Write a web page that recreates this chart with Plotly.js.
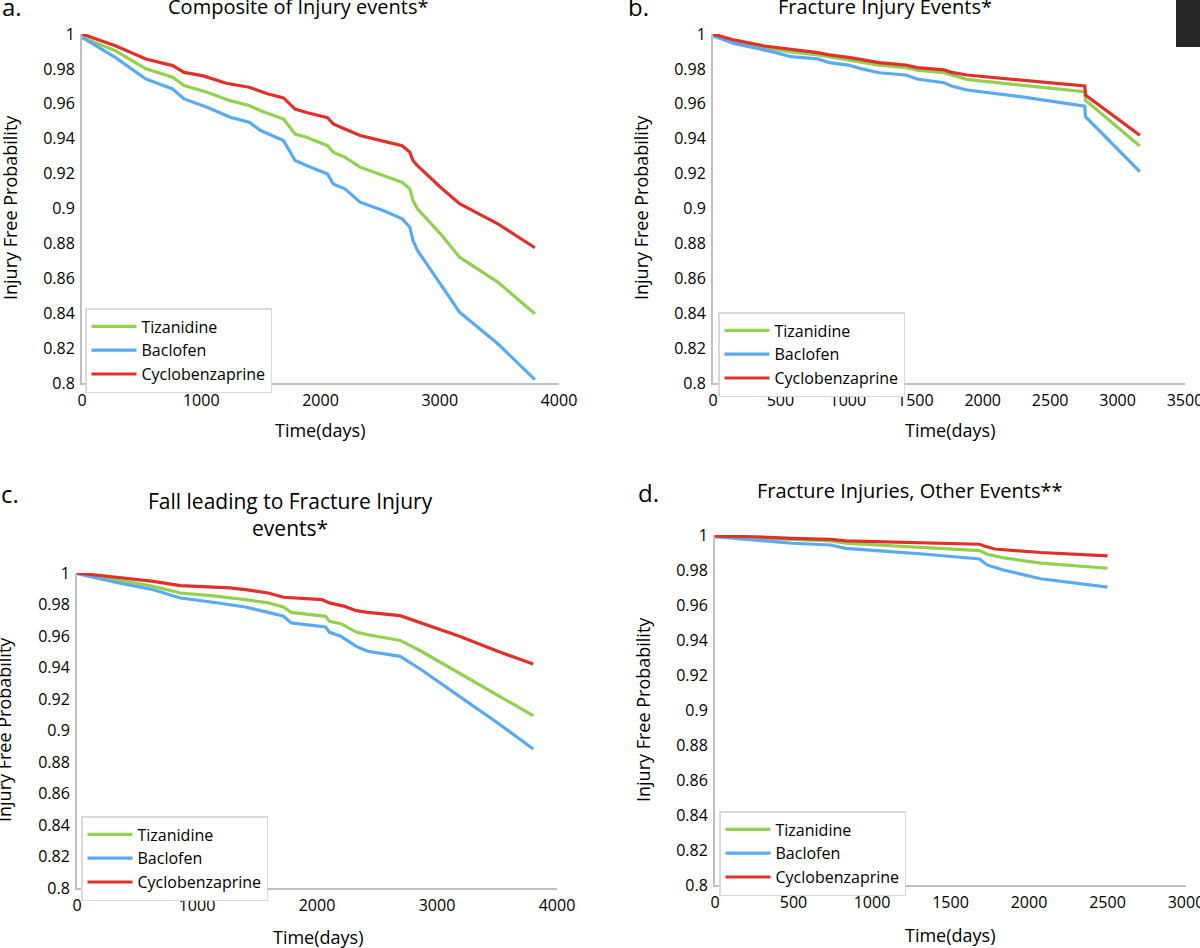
<!DOCTYPE html>
<html>
<head>
<meta charset="utf-8">
<script src="https://cdn.plot.ly/plotly-3.0.1.min.js"></script>
<style>html,body{margin:0;padding:0;background:#fff;}#chart{width:1200px;height:948px;}</style>
</head>
<body>
<div id="chart"></div>
<script>
// ---------- DATA ----------
const seriesNames = ["Tizanidine", "Baclofen", "Cyclobenzaprine"];
const yTickVals = [0.8, 0.82, 0.84, 0.86, 0.88, 0.9, 0.92, 0.94, 0.96, 0.98, 1];
const yTickText = ["0.8", "0.82", "0.84", "0.86", "0.88", "0.9", "0.92", "0.94", "0.96", "0.98", "1"];

// Panel a: Composite of Injury events*
const aTizX = [0, 279, 536, 760, 856, 1049, 1242, 1402, 1498, 1690, 1787, 1883, 2059, 2107, 2204, 2332, 2525, 2685, 2749, 2775, 2813, 3006, 3166, 3487, 3798];
const aTizY = [0.998, 0.9905, 0.98, 0.9752, 0.9704, 0.9666, 0.9618, 0.959, 0.956, 0.9513, 0.9427, 0.9408, 0.936, 0.9323, 0.9294, 0.9237, 0.9189, 0.915, 0.9113, 0.9046, 0.8998, 0.8855, 0.8721, 0.8578, 0.8397];
const aBacX = [0, 279, 536, 760, 856, 1049, 1242, 1402, 1498, 1690, 1787, 1883, 2059, 2107, 2204, 2332, 2525, 2685, 2749, 2775, 2813, 3006, 3166, 3487, 3798];
const aBacY = [0.998, 0.9866, 0.9742, 0.9685, 0.9628, 0.958, 0.9523, 0.9494, 0.9447, 0.9389, 0.9275, 0.9246, 0.9198, 0.9141, 0.9113, 0.9036, 0.8989, 0.8941, 0.8893, 0.8817, 0.876, 0.8569, 0.8406, 0.8225, 0.8019];
const aCycX = [0, 279, 536, 760, 856, 1017, 1209, 1402, 1562, 1690, 1787, 1883, 2059, 2107, 2204, 2332, 2525, 2685, 2749, 2775, 2813, 3006, 3166, 3487, 3798];
const aCycY = [1.0, 0.9933, 0.9857, 0.9819, 0.978, 0.976, 0.9718, 0.9695, 0.9656, 0.9634, 0.957, 0.955, 0.952, 0.9485, 0.9456, 0.9418, 0.9386, 0.936, 0.9323, 0.9275, 0.9246, 0.9122, 0.9027, 0.8912, 0.8775];

// Panel b: Fracture Injury Events*
const bTizX = [0, 153, 380, 579, 777, 1004, 1231, 1429, 1514, 1713, 1769, 1883, 2280, 2757, 2762, 3165];
const bTizY = [0.9994, 0.9956, 0.9922, 0.9897, 0.988, 0.9851, 0.9822, 0.9807, 0.9793, 0.9778, 0.9765, 0.974, 0.9707, 0.9669, 0.9621, 0.9358];
const bBacX = [0, 153, 437, 579, 777, 862, 1004, 1089, 1231, 1429, 1514, 1713, 1769, 1883, 2280, 2757, 2762, 3165];
const bBacY = [0.9989, 0.9946, 0.9899, 0.987, 0.9857, 0.9836, 0.9822, 0.9803, 0.9778, 0.9765, 0.9742, 0.9721, 0.9702, 0.9679, 0.9641, 0.9587, 0.9526, 0.9211];
const bCycX = [0, 153, 380, 579, 777, 862, 1004, 1146, 1231, 1429, 1514, 1713, 1769, 1883, 2280, 2757, 2762, 3165];
const bCycY = [1.0, 0.9966, 0.9931, 0.9912, 0.9893, 0.988, 0.9866, 0.9847, 0.9836, 0.9822, 0.9807, 0.9794, 0.978, 0.9765, 0.9736, 0.9702, 0.965, 0.942];

// Panel c: Fall leading to Fracture Injury events*
const cTizX = [0, 319, 637, 861, 1116, 1403, 1594, 1721, 1785, 2072, 2104, 2199, 2327, 2422, 2693, 2869, 3187, 3506, 3802];
const cTizY = [1.0, 0.9958, 0.9915, 0.9873, 0.9856, 0.9831, 0.981, 0.9784, 0.975, 0.9725, 0.9693, 0.9678, 0.9625, 0.9608, 0.9572, 0.9503, 0.9365, 0.9228, 0.9094];
const cBacX = [0, 319, 637, 861, 1116, 1403, 1594, 1721, 1785, 2072, 2104, 2199, 2327, 2422, 2693, 2869, 3187, 3506, 3802];
const cBacY = [0.9996, 0.9941, 0.9894, 0.9841, 0.9816, 0.9784, 0.975, 0.9725, 0.9683, 0.9657, 0.9623, 0.9598, 0.9534, 0.9503, 0.9471, 0.9386, 0.9217, 0.9048, 0.8883];
const cCycX = [0, 319, 637, 861, 1275, 1403, 1594, 1721, 2040, 2104, 2231, 2327, 2422, 2693, 2869, 3187, 3506, 3802];
const cCycY = [1.0, 0.9975, 0.9947, 0.992, 0.9905, 0.9894, 0.9873, 0.9846, 0.9831, 0.981, 0.9788, 0.9761, 0.975, 0.9729, 0.9683, 0.9598, 0.9503, 0.9422];

// Panel d: Fracture Injuries, Other Events**
const dTizX = [0, 248, 492, 735, 833, 1052, 1344, 1685, 1733, 1831, 2074, 2500];
const dTizY = [0.9994, 0.9985, 0.9972, 0.9966, 0.9953, 0.9943, 0.9928, 0.9911, 0.989, 0.9871, 0.9839, 0.981];
const dBacX = [0, 248, 492, 735, 833, 1052, 1344, 1685, 1733, 1831, 2074, 2500];
const dBacY = [0.999, 0.9972, 0.9953, 0.9943, 0.9924, 0.9909, 0.989, 0.9863, 0.9829, 0.9801, 0.975, 0.9702];
const dCycX = [0, 248, 492, 735, 833, 1052, 1344, 1685, 1709, 1782, 2074, 2500];
const dCycY = [0.9994, 0.999, 0.9981, 0.9975, 0.9966, 0.9962, 0.9956, 0.9947, 0.9939, 0.992, 0.99, 0.9881];

const panelTitles = ["Composite of Injury events*", "Fracture Injury Events*", "Fall leading to Fracture Injury<br>events*", "Fracture Injuries, Other Events**"];
const panelLetters = ["a.", "b.", "c.", "d."];
const xTitle = "Time(days)";
const yTitle = "Injury Free Probability";

// ---------- STYLE ----------
const W = 1200, H = 948;
const colors = ["#92d050", "#5aaaf0", "#e0302a"];
const FONT = "'Open Sans', Lato, sans-serif";
const px = v => v / W;
const py = v => 1 - v / H;

const panels = [
  {sets: [[aTizX, aTizY], [aBacX, aBacY], [aCycX, aCycY]], x0: 82, x1: 559, y0: 34, y1: 383, xr: 4000, dt: 1000, leg: [85, 308]},
  {sets: [[bTizX, bTizY], [bBacX, bBacY], [bCycX, bCycY]], x0: 713, x1: 1185, y0: 34, y1: 383, xr: 3500, dt: 500, leg: [718, 312]},
  {sets: [[cTizX, cTizY], [cBacX, cBacY], [cCycX, cCycY]], x0: 77, x1: 557, y0: 573, y1: 888, xr: 4000, dt: 1000, leg: [81, 816]},
  {sets: [[dTizX, dTizY], [dBacX, dBacY], [dCycX, dCycY]], x0: 715, x1: 1186, y0: 535, y1: 885, xr: 3000, dt: 500, leg: [719, 811]}
];

const traces = [];
const layout = {
  width: W, height: H,
  margin: {l: 0, r: 0, t: 0, b: 0},
  paper_bgcolor: "#ffffff", plot_bgcolor: "#ffffff",
  font: {family: FONT, size: 16, color: "#000"},
  showlegend: true,
  annotations: [],
  shapes: [{type: "rect", xref: "paper", yref: "paper", x0: px(1176), x1: 1, y0: py(47), y1: 1, fillcolor: "#262626", line: {width: 0}}]
};

const titlePos = [[298, 6], [885, 6], [290, 514], [910, 490]];
const titleSize = [20, 20, 21, 20];
const letterPos = [[12, 7], [638, 7], [10, 494], [648, 492]];
const yTitlePos = [[10, 208], [641, 208], [4, 730], [643, 710]];
const xTitlePos = [[320, 430], [950, 430], [318, 937], [950, 935]];

panels.forEach((p, i) => {
  const n = i + 1;
  const xa = n === 1 ? "x" : "x" + n;
  const ya = n === 1 ? "y" : "y" + n;
  const lg = n === 1 ? "legend" : "legend" + n;
  p.sets.forEach((s, k) => {
    traces.push({
      type: "scatter", mode: "lines", x: s[0], y: s[1], name: seriesNames[k],
      xaxis: xa, yaxis: ya, legend: lg,
      line: {color: colors[k], width: 3.2}, hoverinfo: "skip"
    });
  });
  layout[n === 1 ? "xaxis" : "xaxis" + n] = {
    domain: [px(p.x0), px(p.x1)], anchor: ya, range: [0, p.xr], dtick: p.dt, tick0: 0,
    showgrid: false, zeroline: false, showline: true, linecolor: "#bfbfbf", linewidth: 2,
    ticks: "", ticklabelstandoff: 2, ticklabeloverflow: "allow",
    tickfont: {family: FONT, size: 16, color: "#000"}, fixedrange: true
  };
  layout[n === 1 ? "yaxis" : "yaxis" + n] = {
    domain: [py(p.y1), py(p.y0)], anchor: xa, range: [0.8, 1.0],
    tickmode: "array", tickvals: yTickVals, ticktext: yTickText,
    showgrid: false, zeroline: false, showline: true, linecolor: "#bfbfbf", linewidth: 2,
    ticks: "", ticklabelstandoff: 2, ticklabeloverflow: "allow",
    tickfont: {family: FONT, size: 16, color: "#000"}, fixedrange: true
  };
  layout[lg] = {
    x: px(p.leg[0]), y: py(p.leg[1]), xanchor: "left", yanchor: "top",
    xref: "paper", yref: "paper",
    bgcolor: "#ffffff", bordercolor: "#d9d9d9", borderwidth: 1.5,
    font: {family: FONT, size: 16, color: "#000"}, itemwidth: 45, tracegroupgap: 0
  };
  layout.annotations.push(
    {text: panelTitles[i], x: px(titlePos[i][0]), y: py(titlePos[i][1]), xref: "paper", yref: "paper", showarrow: false, xanchor: "center", yanchor: "middle", font: {family: FONT, size: titleSize[i], color: "#000"}},
    {text: panelLetters[i], x: px(letterPos[i][0]), y: py(letterPos[i][1]), xref: "paper", yref: "paper", showarrow: false, xanchor: "center", yanchor: "middle", font: {family: FONT, size: 24, color: "#000"}},
    {text: yTitle, x: px(yTitlePos[i][0]), y: py(yTitlePos[i][1]), xref: "paper", yref: "paper", showarrow: false, textangle: -90, xanchor: "center", yanchor: "middle", font: {family: FONT, size: 18, color: "#000"}},
    {text: xTitle, x: px(xTitlePos[i][0]), y: py(xTitlePos[i][1]), xref: "paper", yref: "paper", showarrow: false, xanchor: "center", yanchor: "middle", font: {family: FONT, size: 18, color: "#000"}}
  );
});

Plotly.newPlot("chart", traces, layout, {displayModeBar: false, staticPlot: true});
</script>
</body>
</html>
